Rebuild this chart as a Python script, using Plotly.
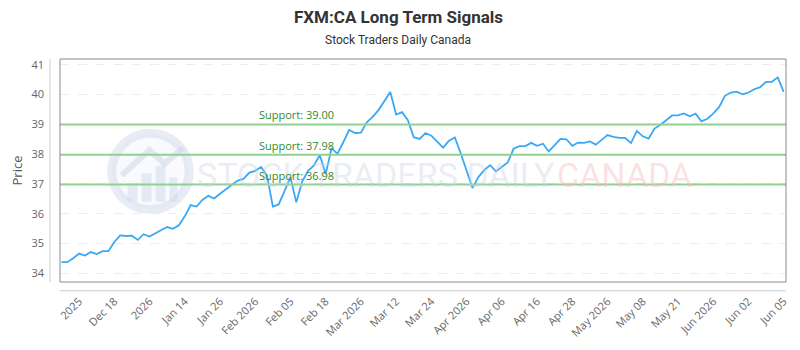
import plotly.graph_objects as go

# ---- data ----
prices = [
    34.37, 34.37, 34.50, 34.66, 34.59, 34.71, 34.64, 34.74, 34.74, 35.05,
    35.27, 35.25, 35.26, 35.12, 35.31, 35.23, 35.34, 35.45, 35.55, 35.49,
    35.61, 35.91, 36.29, 36.24, 36.46, 36.60, 36.51, 36.67, 36.82, 36.97,
    37.11, 37.17, 37.38, 37.44, 37.57, 37.28, 36.24, 36.31, 36.77, 37.22,
    36.38, 37.08, 37.44, 37.62, 37.97, 37.33, 38.20, 38.01, 38.40, 38.81,
    38.71, 38.72, 39.07, 39.25, 39.48, 39.77, 40.09, 39.33, 39.41, 39.14,
    38.57, 38.51, 38.71, 38.62, 38.43, 38.22, 38.45, 38.56, 38.03, 37.45,
    36.86, 37.23, 37.46, 37.63, 37.42, 37.57, 37.72, 38.18, 38.27, 38.27,
    38.38, 38.28, 38.35, 38.09, 38.30, 38.51, 38.50, 38.28, 38.39, 38.38,
    38.43, 38.32, 38.48, 38.64, 38.58, 38.55, 38.55, 38.37, 38.78, 38.60,
    38.52, 38.86, 38.98, 39.14, 39.30, 39.30, 39.37, 39.27, 39.36, 39.10,
    39.19, 39.36, 39.58, 39.96, 40.07, 40.10, 40.01, 40.07, 40.18, 40.25,
    40.43, 40.43, 40.58, 40.09,
]
tick_labels = ["2025", "Dec 18", "2026", "Jan 14", "Jan 26", "Feb 2026", "Feb 05",
               "Feb 18", "Mar 2026", "Mar 12", "Mar 24", "Apr 2026", "Apr 06",
               "Apr 16", "Apr 28", "May 2026", "May 08", "May 21", "Jun 2026",
               "Jun 02", "Jun 05"]
tick_index = [3 + 6 * k for k in range(len(tick_labels))]
support_levels = [39.00, 37.98, 36.98]
y_ticks = [34, 35, 36, 37, 38, 39, 40, 41]

x_idx = list(range(len(prices)))

# ---- layout geometry (pixels) ----
W, H = 800, 350
L, R, T, B = 60, 10, 59, 63
pw, ph = W - L - R, H - T - B


def px(xp):
    return (xp - L) / pw


def py(yp):
    return (H - B - yp) / ph


fig = go.Figure()

fig.add_trace(go.Scatter(
    x=x_idx, y=prices, mode="lines",
    line=dict(color="#3aa8f5", width=1.8),
    hoverinfo="skip", showlegend=False,
))

shapes = []
# watermark logo circle
shapes.append(dict(type="circle", xref="paper", yref="paper", layer="below",
                   x0=px(112), x1=px(190), y0=py(213), y1=py(135),
                   line=dict(color="rgba(205,215,232,0.45)", width=9),
                   fillcolor="rgba(235,240,248,0.35)"))
for bx0, bx1, by in [(128, 138, 186), (142, 152, 176), (156, 166, 168), (170, 178, 180)]:
    shapes.append(dict(type="rect", xref="paper", yref="paper", layer="below",
                       x0=px(bx0), x1=px(bx1), y0=py(205), y1=py(by),
                       line=dict(width=0), fillcolor="rgba(205,215,232,0.45)"))
shapes.append(dict(type="path", xref="paper", yref="paper", layer="below",
                   path=f"M {px(122)} {py(178)} L {px(150)} {py(152)} L {px(165)} {py(166)} L {px(184)} {py(150)}",
                   line=dict(color="rgba(205,215,232,0.55)", width=6)))

# support lines
for lvl in support_levels:
    shapes.append(dict(type="line", xref="paper", yref="y", x0=0, x1=1, y0=lvl, y1=lvl,
                       line=dict(color="#8fd28f", width=2), layer="above"))

# plot frame
shapes.append(dict(type="rect", xref="paper", yref="paper", x0=0, x1=1, y0=0, y1=1,
                   line=dict(color="#8a8a8a", width=1), layer="above"))
# offset y-axis line
shapes.append(dict(type="line", xref="paper", yref="paper", x0=px(50), x1=px(50),
                   y0=0, y1=1, line=dict(color="#cccccc", width=1)))
# offset x-axis line
shapes.append(dict(type="line", xref="paper", yref="paper", x0=0, x1=1,
                   y0=py(296), y1=py(296), line=dict(color="#cccccc", width=1)))

annotations = [
    dict(text="<b>FXM:CA Long Term Signals</b>", xref="paper", yref="paper",
         x=px(400), y=py(16), xanchor="center", yanchor="middle", showarrow=False,
         font=dict(family="Roboto", size=17, color="#333333")),
    dict(text="Stock Traders Daily Canada", xref="paper", yref="paper",
         x=px(400), y=py(40), xanchor="center", yanchor="middle", showarrow=False,
         font=dict(family="Roboto", size=12, color="#333333")),
    # watermark text
    dict(text="STOCK TRADERS DAILY", xref="paper", yref="paper",
         x=px(196), y=py(178), xanchor="left", yanchor="middle", showarrow=False,
         font=dict(family="Roboto", size=34, color="rgba(200,210,228,0.40)")),
    dict(text="CANADA", xref="paper", yref="paper",
         x=px(697), y=py(178), xanchor="right", yanchor="middle", showarrow=False,
         font=dict(family="Roboto", size=34, color="rgba(248,190,190,0.45)")),
]
for lvl in support_levels:
    annotations.append(dict(text=f"Support: {lvl:.2f}", xref="paper", yref="y",
                            x=px(258), y=lvl, xanchor="left", yanchor="bottom",
                            yshift=0, showarrow=False,
                            font=dict(family="Open Sans", size=11, color="#2f8a2f")))

fig.update_layout(
    width=W, height=H,
    margin=dict(l=L, r=R, t=T, b=B),
    paper_bgcolor="white", plot_bgcolor="white",
    shapes=shapes, annotations=annotations,
    xaxis=dict(
        range=[-0.25, 123.4], tickmode="array", tickvals=tick_index, ticktext=tick_labels,
        tickangle=-45, showgrid=False, zeroline=False, showline=False,
        ticks="", ticklabelstandoff=10,
        tickfont=dict(family="Open Sans", size=11, color="#666666"),
        fixedrange=True,
    ),
    yaxis=dict(
        range=[33.704, 41.197], tickmode="array", tickvals=y_ticks,
        showgrid=True, gridcolor="#ececec", griddash="dash", gridwidth=1,
        zeroline=False, showline=False, ticks="", ticklabelstandoff=15,
        tickfont=dict(family="Open Sans", size=11, color="#666666"),
        title=dict(text="Price", font=dict(family="Open Sans", size=13, color="#555555"),
                   standoff=5),
        fixedrange=True,
    ),
)

fig.write_html("out.html")
